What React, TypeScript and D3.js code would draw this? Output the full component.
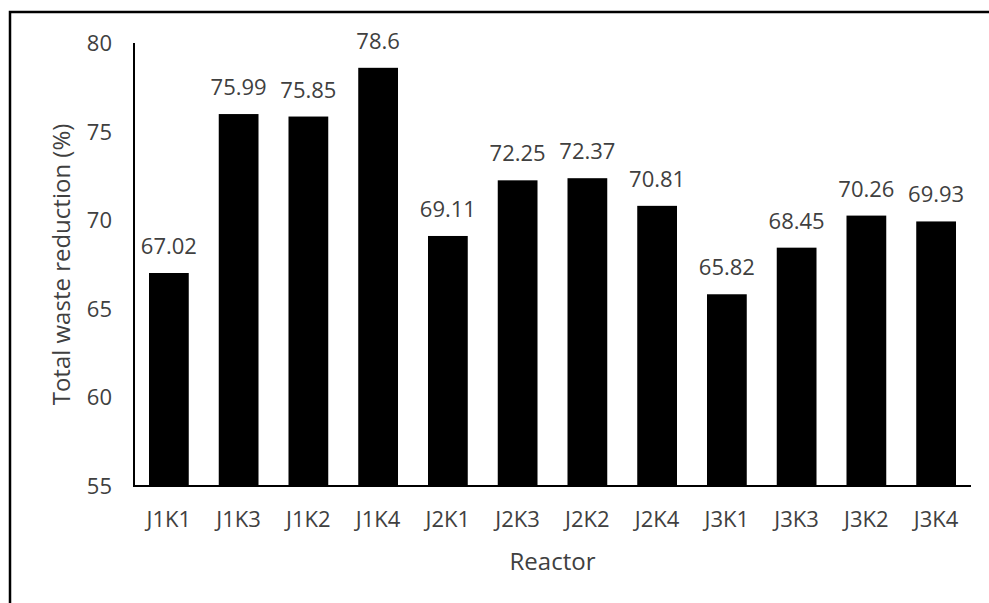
import * as d3 from 'd3'

const REACTORS = ['J1K1', 'J1K3', 'J1K2', 'J1K4', 'J2K1', 'J2K3', 'J2K2', 'J2K4', 'J3K1', 'J3K3', 'J3K2', 'J3K4']
const REDUCTION = [67.02, 75.99, 75.85, 78.6, 69.11, 72.25, 72.37, 70.81, 65.82, 68.45, 70.26, 69.93]
const Y_TICKS = [55, 60, 65, 70, 75, 80]

const WIDTH = 989
const HEIGHT = 603
const PLOT = { left: 134, right: 971, top: 43, bottom: 486 }
const FONT = '"Open Sans", sans-serif'
const TEXT = '#404040'

export default function App() {
  const x = d3.scaleBand<string>()
    .domain(REACTORS)
    .range([PLOT.left, PLOT.right])
    .paddingInner(0.43)
    .paddingOuter(0.215)

  const y = d3.scaleLinear()
    .domain([55, 80])
    .range([PLOT.bottom, PLOT.top])

  return (
    <svg
      width={WIDTH}
      height={HEIGHT}
      style={{ position: 'fixed', left: 0, top: 0, background: '#fff', fontFamily: FONT }}
    >
      {/* outer frame, only top and left edges fall inside the image */}
      <rect x={10} y={12} width={1100} height={700} fill="none" stroke="#000" strokeWidth={2.5} />

      {/* bars */}
      {REACTORS.map((r, i) => (
        <rect
          key={r}
          x={x(r)}
          y={y(REDUCTION[i])}
          width={x.bandwidth()}
          height={y(55) - y(REDUCTION[i])}
          fill="#000"
        />
      ))}

      {/* value labels */}
      {REACTORS.map((r, i) => (
        <text
          key={`v-${r}`}
          x={(x(r) ?? 0) + x.bandwidth() / 2}
          y={y(REDUCTION[i]) - 19}
          textAnchor="middle"
          fontSize={22}
          fill={TEXT}
        >
          {REDUCTION[i]}
        </text>
      ))}

      {/* axes */}
      <line x1={PLOT.left} x2={PLOT.left} y1={PLOT.top} y2={PLOT.bottom} stroke="#000" strokeWidth={2} />
      <line x1={PLOT.left - 1} x2={PLOT.right} y1={PLOT.bottom} y2={PLOT.bottom} stroke="#000" strokeWidth={2} />

      {Y_TICKS.map(t => (
        <text
          key={`y-${t}`}
          x={112}
          y={y(t) + 8}
          textAnchor="end"
          fontSize={22}
          fill={TEXT}
        >
          {t}
        </text>
      ))}

      {REACTORS.map(r => (
        <text
          key={`x-${r}`}
          x={(x(r) ?? 0) + x.bandwidth() / 2}
          y={527}
          textAnchor="middle"
          fontSize={22}
          fill={TEXT}
        >
          {r}
        </text>
      ))}

      <text
        x={(PLOT.left + PLOT.right) / 2}
        y={570}
        textAnchor="middle"
        fontSize={24}
        fill={TEXT}
      >
        Reactor
      </text>

      <text
        transform={`translate(70, ${(PLOT.top + PLOT.bottom) / 2}) rotate(-90)`}
        textAnchor="middle"
        fontSize={24}
        fill={TEXT}
      >
        Total waste reduction (%)
      </text>
    </svg>
  )
}
